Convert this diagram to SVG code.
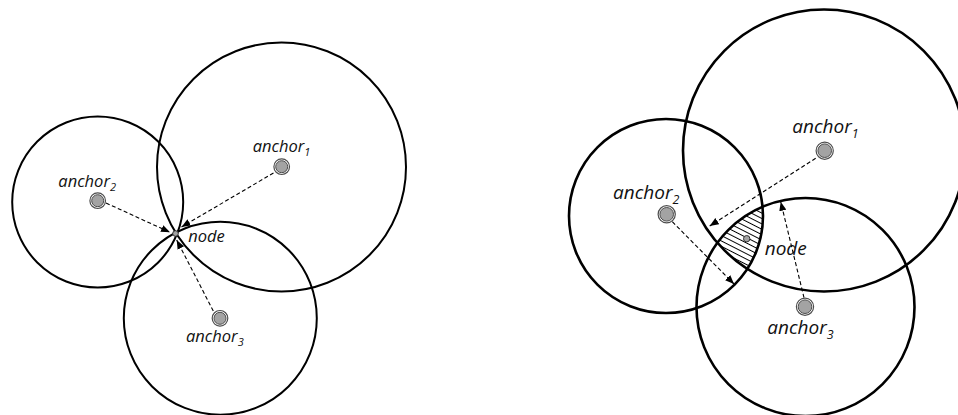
<svg xmlns="http://www.w3.org/2000/svg" width="958" height="415" viewBox="0 0 958 415">
<style>
.rng{fill:none;stroke:#000;stroke-width:2}
.rngR{fill:none;stroke:#000;stroke-width:2.6}
.con{fill:none;stroke:#000;stroke-width:1.1;stroke-dasharray:4 2.5}
.lbl{font-family:"Open Sans","Noto Sans",sans-serif;font-style:italic;fill:#111}
.L{font-size:16.5px}
.R{font-size:19px}
.sub{font-size:11px}
.subR{font-size:12.5px}
.dotO{fill:#fff;stroke:#4d4d4d;stroke-width:1.2}
.dotI{fill:#a3a3a3;stroke:#4d4d4d;stroke-width:1}
</style>
<defs>
<marker id="ah" viewBox="0 0 10 8" refX="10" refY="4" markerWidth="9" markerHeight="7.5" markerUnits="userSpaceOnUse" orient="auto">
<path d="M0,0 L10,4 L0,8 Z" fill="#000"/>
</marker>
<pattern id="hatch" patternUnits="userSpaceOnUse" width="20" height="4.8" patternTransform="rotate(27)">
<line x1="0" y1="2.4" x2="20" y2="2.4" stroke="#000" stroke-width="1"/>
</pattern>
<clipPath id="cA"><circle cx="824" cy="150.5" r="141"/></clipPath>
<clipPath id="cB"><circle cx="666" cy="216" r="97"/></clipPath>
<clipPath id="cC"><circle cx="805.5" cy="307" r="109"/></clipPath>
</defs>
<rect width="958" height="415" fill="#fff"/>

<!-- LEFT PANEL -->
<g id="left-ranges">
<circle class="rng" cx="281.5" cy="167" r="124.5"/>
<circle class="rng" cx="97.7" cy="202" r="85.5"/>
<circle class="rng" cx="220.3" cy="318.2" r="96.5"/>
</g>
<g id="left-connectors">
<line class="con" x1="273.5" y1="173" x2="181.5" y2="227" marker-end="url(#ah)"/>
<line class="con" x1="106" y1="203" x2="170" y2="232.3" marker-end="url(#ah)"/>
<line class="con" x1="213.3" y1="311" x2="176.7" y2="240" marker-end="url(#ah)"/>
</g>
<g id="left-anchor1">
<circle class="dotO" cx="281.7" cy="166.7" r="7.8"/>
<circle class="dotI" cx="281.7" cy="166.7" r="6"/>
<text class="lbl L" x="252.7" y="152">anchor<tspan class="sub" dy="4">1</tspan></text>
</g>
<g id="left-anchor2">
<circle class="dotO" cx="97.7" cy="200.7" r="7.8"/>
<circle class="dotI" cx="97.7" cy="200.7" r="6"/>
<text class="lbl L" x="58.3" y="186.7">anchor<tspan class="sub" dy="4">2</tspan></text>
</g>
<g id="left-anchor3">
<circle class="dotO" cx="220" cy="318.3" r="7.8"/>
<circle class="dotI" cx="220" cy="318.3" r="6"/>
<text class="lbl L" x="186" y="342.3">anchor<tspan class="sub" dy="4">3</tspan></text>
</g>
<g id="left-node">
<circle cx="175.5" cy="233.5" r="2.8" fill="#a3a3a3" stroke="#333" stroke-width="1"/>
<text class="lbl L" x="188.3" y="241.7">node</text>
</g>

<!-- RIGHT PANEL -->
<g id="right-region">
<g clip-path="url(#cA)"><g clip-path="url(#cB)"><g clip-path="url(#cC)">
<rect x="690" y="190" width="90" height="90" fill="url(#hatch)"/>
</g></g></g>
</g>
<g id="right-ranges">
<circle class="rngR" cx="824" cy="150.5" r="141"/>
<circle class="rngR" cx="666" cy="216" r="97"/>
<circle class="rngR" cx="805.5" cy="307" r="109"/>
</g>
<g id="right-connectors">
<line class="con" x1="815.7" y1="158.3" x2="709.7" y2="226" marker-end="url(#ah)"/>
<line class="con" x1="672.3" y1="221.7" x2="734" y2="284" marker-end="url(#ah)"/>
<line class="con" x1="804" y1="297.7" x2="780.7" y2="201.7" marker-end="url(#ah)"/>
</g>
<g id="right-anchor1">
<circle class="dotO" cx="824.7" cy="150.7" r="8.6"/>
<circle class="dotI" cx="824.7" cy="150.7" r="6.8"/>
<text class="lbl R" x="792.3" y="133.3">anchor<tspan class="subR" dy="4.5">1</tspan></text>
</g>
<g id="right-anchor2">
<circle class="dotO" cx="666.7" cy="214.3" r="8.6"/>
<circle class="dotI" cx="666.7" cy="214.3" r="6.8"/>
<text class="lbl R" x="613" y="199.3">anchor<tspan class="subR" dy="4.5">2</tspan></text>
</g>
<g id="right-anchor3">
<circle class="dotO" cx="805" cy="306.7" r="8.6"/>
<circle class="dotI" cx="805" cy="306.7" r="6.8"/>
<text class="lbl R" x="767.3" y="334.3">anchor<tspan class="subR" dy="4.5">3</tspan></text>
</g>
<g id="right-node">
<circle cx="746.7" cy="238.7" r="3.2" fill="#a3a3a3" stroke="#333" stroke-width="1"/>
<text class="lbl R" x="764.7" y="255">node</text>
</g>
</svg>
